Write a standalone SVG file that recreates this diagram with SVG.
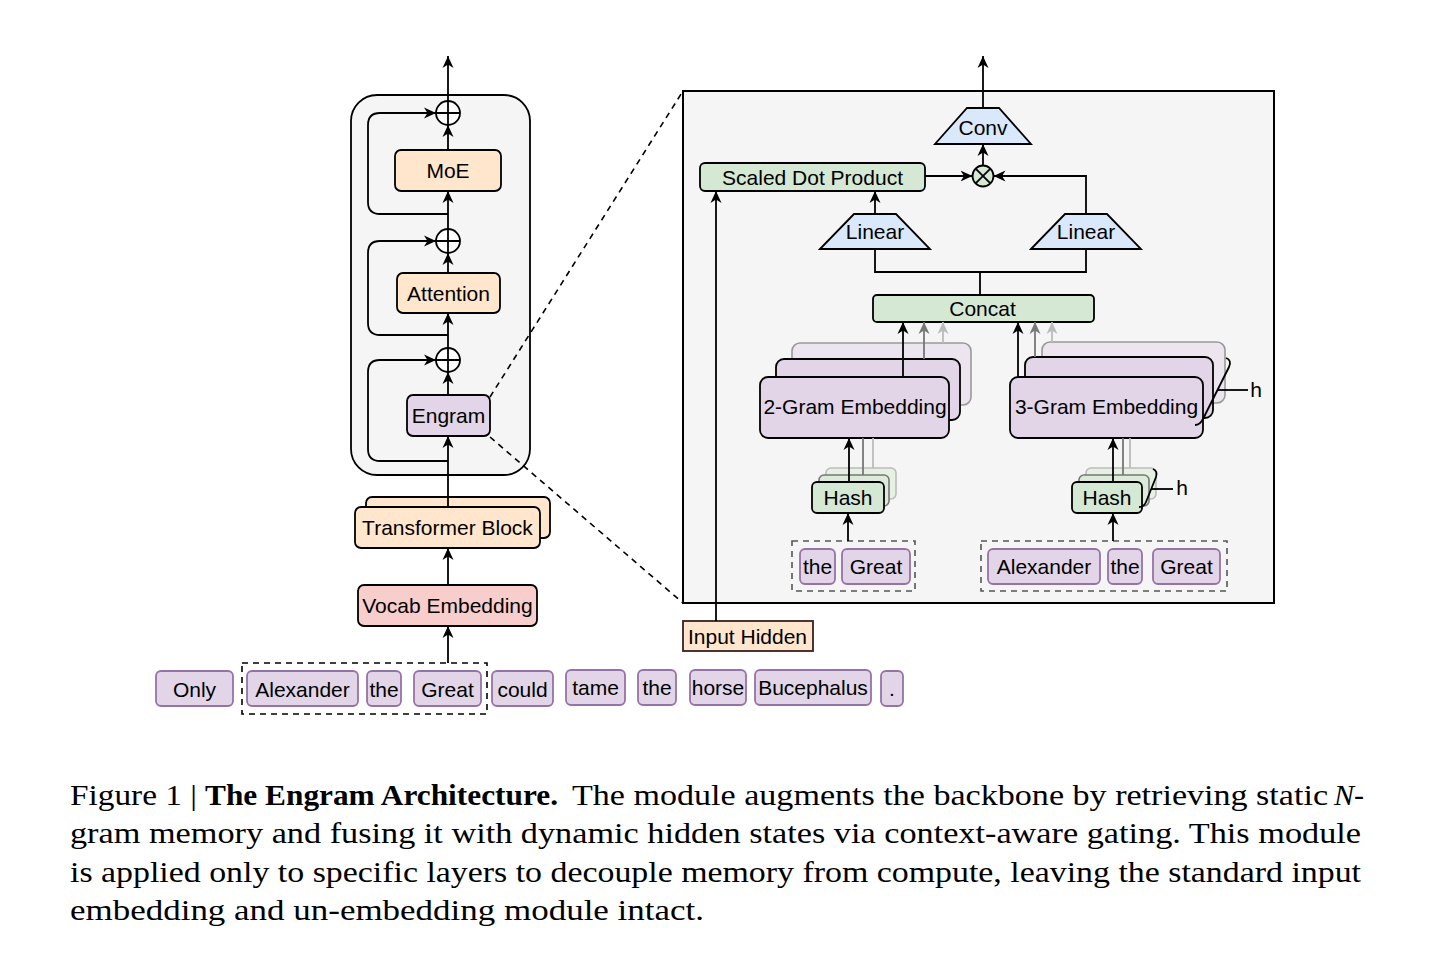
<svg xmlns="http://www.w3.org/2000/svg" width="1456" height="968" viewBox="0 0 1456 968">
<defs>
<style>
.lbl{font-family:"Liberation Sans",Arial,sans-serif;font-size:21px;fill:#000;text-anchor:middle;dominant-baseline:central}
.cap{font-family:"Liberation Serif","Times New Roman",serif;font-size:30px;fill:#000}
.box{stroke:#000;stroke-width:1.8}
.orange{fill:#ffe6cc}
.purple{fill:#e1d5e7}
.green{fill:#d5e8d4}
.blue{fill:#dae8fc}
.red{fill:#f8cecc}
.tok{fill:#e1d5e7;stroke:#9673a6;stroke-width:1.8}
.ln{fill:none;stroke:#000;stroke-width:1.8}
.arr{fill:none;stroke:#000;stroke-width:1.8;marker-end:url(#ah)}
.arrg{fill:none;stroke:#777;stroke-width:1.8;marker-end:url(#ahg)}
.arrl{fill:none;stroke:#bbb;stroke-width:1.8;marker-end:url(#ahl)}
.dash{fill:none;stroke:#000;stroke-width:1.6;stroke-dasharray:6 5}
.dashg{fill:none;stroke:#555;stroke-width:1.6;stroke-dasharray:6 5}
</style>
<marker id="ah" markerUnits="userSpaceOnUse" markerWidth="13" markerHeight="12" refX="12" refY="6" orient="auto"><path d="M0,0.5 L12,6 L0,11.5 L3.5,6 z" fill="#000"/></marker>
<marker id="ahg" markerUnits="userSpaceOnUse" markerWidth="13" markerHeight="12" refX="12" refY="6" orient="auto"><path d="M0,0.5 L12,6 L0,11.5 L3.5,6 z" fill="#777"/></marker>
<marker id="ahl" markerUnits="userSpaceOnUse" markerWidth="13" markerHeight="12" refX="12" refY="6" orient="auto"><path d="M0,0.5 L12,6 L0,11.5 L3.5,6 z" fill="#bbb"/></marker>
</defs>
<rect width="1456" height="968" fill="#fff"/>

<!-- Left backbone -->
<g id="backbone"><rect x="351" y="95" width="179" height="380" rx="26" fill="#f5f5f5" class="box"/></g>
<g id="add1"><circle cx="448" cy="113" r="12" fill="#fff" class="box"/><path class="ln" d="M436,113 H460 M448,101 V125"/></g>
<g id="moe"><rect x="395" y="150" width="106" height="41" rx="6" class="box orange"/><text class="lbl" x="448" y="170.5">MoE</text></g>
<g id="add2"><circle cx="448" cy="241" r="12" fill="#fff" class="box"/><path class="ln" d="M436,241 H460 M448,229 V253"/></g>
<g id="attention"><rect x="397" y="273" width="103" height="40" rx="6" class="box orange"/><text class="lbl" x="448.5" y="293">Attention</text></g>
<g id="add3"><circle cx="448" cy="360" r="12" fill="#fff" class="box"/><path class="ln" d="M436,360 H460 M448,348 V372"/></g>
<g id="engram"><rect x="407" y="395" width="83" height="41" rx="6" class="box purple"/><text class="lbl" x="448.5" y="415.5">Engram</text></g>
<g id="transformer"><rect x="366" y="497" width="184" height="41" rx="6" class="box orange"/><rect x="355" y="507" width="185" height="41" rx="6" class="box orange"/><text class="lbl" x="447.5" y="527.5">Transformer Block</text></g>
<g id="vocab"><rect x="358" y="585" width="179" height="41" rx="6" class="box red"/><text class="lbl" x="447.5" y="605.5">Vocab Embedding</text></g>

<!-- Token row -->
<g id="tokens">
<rect x="242" y="663" width="245" height="51" class="dash"/>
<rect x="156" y="671" width="77" height="35" rx="5" class="tok"/><text class="lbl" x="194.5" y="689">Only</text>
<rect x="247" y="671" width="111" height="35" rx="5" class="tok"/><text class="lbl" x="302.5" y="689">Alexander</text>
<rect x="367" y="671" width="34" height="35" rx="5" class="tok"/><text class="lbl" x="384" y="689">the</text>
<rect x="414" y="671" width="67" height="35" rx="5" class="tok"/><text class="lbl" x="447.5" y="689">Great</text>
<rect x="492" y="671" width="61" height="35" rx="5" class="tok"/><text class="lbl" x="522.5" y="689">could</text>
<rect x="566" y="670" width="59" height="35" rx="5" class="tok"/><text class="lbl" x="595.5" y="687">tame</text>
<rect x="638" y="670" width="38" height="35" rx="5" class="tok"/><text class="lbl" x="657" y="687">the</text>
<rect x="690" y="670" width="56" height="35" rx="5" class="tok"/><text class="lbl" x="718" y="687">horse</text>
<rect x="755" y="670" width="116" height="35" rx="5" class="tok"/><text class="lbl" x="813" y="687">Bucephalus</text>
<rect x="881" y="671" width="22" height="35" rx="5" class="tok"/><text class="lbl" x="892" y="688">.</text>
</g>

<!-- Right panel -->
<g id="engram-detail"><rect x="683" y="91" width="591" height="512" fill="#f5f5f5" stroke="#000" stroke-width="2"/></g>
<g id="conv"><path d="M935,144 L967,108 L999,108 L1031,144 Z" class="box blue"/><text class="lbl" x="983" y="127">Conv</text></g>
<g id="mul"><circle cx="983" cy="176" r="10.5" class="box green"/><path class="ln" d="M975.6,168.6 L990.4,183.4 M990.4,168.6 L975.6,183.4"/></g>
<g id="sdp"><rect x="700" y="163" width="225" height="28" rx="5" class="box green"/><text class="lbl" x="812.5" y="177.5">Scaled Dot Product</text></g>
<g id="linear1"><path d="M820,249 L854,214 L896,214 L930,249 Z" class="box blue"/><text class="lbl" x="875" y="231">Linear</text></g>
<g id="linear2"><path d="M1031,249 L1065,214 L1107,214 L1141,249 Z" class="box blue"/><text class="lbl" x="1086" y="231">Linear</text></g>
<g id="concat"><rect x="873" y="295" width="221" height="27" rx="4" class="box green"/><text class="lbl" x="982.5" y="308.5">Concat</text></g>
<g id="input-hidden"><rect x="683" y="621" width="130" height="30" fill="#ffe6cc" stroke="#3b1e1e" stroke-width="1.8"/><text class="lbl" x="747.5" y="636">Input Hidden</text></g>

<g id="emb2">
<rect x="792" y="343" width="179" height="62" rx="8" fill="#ece5f0" stroke="#999" stroke-width="1.6"/>
<rect x="776" y="359" width="184" height="61" rx="8" class="box purple"/>
<rect x="760" y="377" width="189" height="61" rx="8" class="box purple"/>
<text class="lbl" x="855" y="406">2-Gram Embedding</text>
</g>
<g id="emb3">
<rect x="1042" y="342" width="183" height="61" rx="8" fill="#ece5f0" stroke="#999" stroke-width="1.6"/>
<rect x="1025" y="357" width="188" height="61" rx="8" class="box purple"/>
<rect x="1010" y="377" width="193" height="61" rx="8" class="box purple"/>
<text class="lbl" x="1106.5" y="406">3-Gram Embedding</text>
<path class="ln" d="M1226,358 Q1232,360 1229,367 L1203,419 Q1200,425 1195,425"/>
<path class="ln" d="M1217,390 H1248"/>
<text class="lbl" x="1256" y="389">h</text>
</g>
<g id="hash2">
<rect x="826" y="468" width="70" height="31" rx="5" fill="#e6f1e4" stroke="#bbb" stroke-width="1.6"/>
<rect x="819" y="475" width="70" height="31" rx="5" fill="#dcebd9" stroke="#777" stroke-width="1.6"/>
<rect x="812" y="482" width="72" height="31" rx="5" class="box green"/>
<text class="lbl" x="848" y="497.5">Hash</text>
</g>
<g id="hash3">
<rect x="1086" y="468" width="70" height="31" rx="5" fill="#e6f1e4" stroke="#bbb" stroke-width="1.6"/>
<rect x="1079" y="475" width="70" height="31" rx="5" fill="#dcebd9" stroke="#777" stroke-width="1.6"/>
<rect x="1072" y="482" width="70" height="31" rx="5" class="box green"/>
<text class="lbl" x="1107" y="497.5">Hash</text>
<path class="ln" d="M1153,469 Q1158,471 1156,477 L1146,502 Q1144,507 1139,507"/>
<path class="ln" d="M1151,489 H1173"/>
<text class="lbl" x="1182" y="487">h</text>
</g>
<g id="ngram2">
<rect x="792" y="541" width="123" height="50" class="dashg"/>
<rect x="800" y="549" width="35" height="35" rx="5" class="tok"/><text class="lbl" x="817.5" y="566">the</text>
<rect x="842" y="549" width="68" height="35" rx="5" class="tok"/><text class="lbl" x="876" y="566">Great</text>
</g>
<g id="ngram3">
<rect x="981" y="541" width="246" height="50" class="dashg"/>
<rect x="988" y="549" width="112" height="35" rx="5" class="tok"/><text class="lbl" x="1044" y="566">Alexander</text>
<rect x="1108" y="549" width="34" height="35" rx="5" class="tok"/><text class="lbl" x="1125" y="566">the</text>
<rect x="1153" y="549" width="67" height="35" rx="5" class="tok"/><text class="lbl" x="1186.5" y="566">Great</text>
</g>

<!-- Connectors -->
<g id="connectors">
<path class="arr" d="M448,101 V56"/>
<path class="arr" d="M448,150 V125"/>
<path class="arr" d="M448,229 V191"/>
<path class="arr" d="M448,273 V253"/>
<path class="arr" d="M448,348 V313"/>
<path class="arr" d="M448,395 V372"/>
<path class="arr" d="M448,507 V436"/>
<path class="arr" d="M448,585 V548"/>
<path class="arr" d="M448,663 V626"/>
<path class="arr" d="M448,214 H380 Q368,214 368,202 V125 Q368,113 380,113 H436"/>
<path class="arr" d="M448,335 H380 Q368,335 368,323 V253 Q368,241 380,241 H436"/>
<path class="arr" d="M448,461 H380 Q368,461 368,449 V372 Q368,360 380,360 H436"/>
<path class="dash" d="M490,397 L683,91"/>
<path class="dash" d="M490,437 L683,603"/>
<path class="arr" d="M983,108 V56"/>
<path class="arr" d="M983,165.5 V144"/>
<path class="arr" d="M925,176 H972.5"/>
<path class="arr" d="M1086,214 V176 H993.5"/>
<path class="arr" d="M875,214 V191"/>
<path class="arr" d="M716,621 V191"/>
<path class="ln" d="M875,249 V272 H1086 V249 M980,272 V295"/>
<path class="arr" d="M903,377 V322"/>
<path class="arrg" d="M924,359 V322"/>
<path class="arrl" d="M943,343 V322"/>
<path class="arr" d="M1018,377 V322"/>
<path class="arrg" d="M1035,357 V322"/>
<path class="arrl" d="M1052,342 V322"/>
<path class="arr" d="M849,482 V438"/>
<path d="M863,475 V438" fill="none" stroke="#777" stroke-width="1.8"/>
<path d="M873,468 V438" fill="none" stroke="#bbb" stroke-width="1.8"/>
<path class="arr" d="M1113,482 V438"/>
<path d="M1123,475 V438" fill="none" stroke="#777" stroke-width="1.8"/>
<path d="M1130,468 V438" fill="none" stroke="#bbb" stroke-width="1.8"/>
<path class="arr" d="M848,541 V513"/>
<path class="arr" d="M1113,541 V513"/>
</g>

<!-- Caption -->
<g id="caption">
<text class="cap" x="70" y="805" textLength="127" lengthAdjust="spacingAndGlyphs">Figure 1 |</text>
<text class="cap" x="205" y="805" font-weight="bold" textLength="353" lengthAdjust="spacingAndGlyphs">The Engram Architecture.</text>
<text class="cap" x="572" y="805" textLength="756" lengthAdjust="spacingAndGlyphs">The module augments the backbone by retrieving static</text>
<text class="cap" x="1334" y="805" font-style="italic">N-</text>
<text class="cap" x="70" y="843" textLength="1291" lengthAdjust="spacingAndGlyphs">gram memory and fusing it with dynamic hidden states via context-aware gating. This module</text>
<text class="cap" x="70" y="882" textLength="1291" lengthAdjust="spacingAndGlyphs">is applied only to specific layers to decouple memory from compute, leaving the standard input</text>
<text class="cap" x="70" y="920" textLength="634" lengthAdjust="spacingAndGlyphs">embedding and un-embedding module intact.</text>
</g>
</svg>
